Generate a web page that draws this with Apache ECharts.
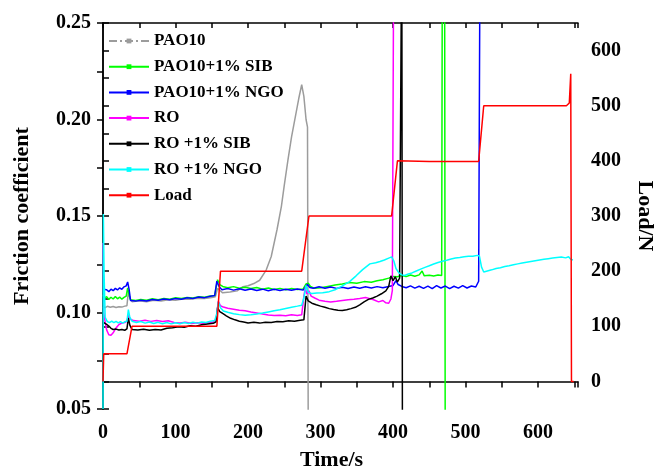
<!DOCTYPE html>
<html lang="en">
<head>
    <meta charset="UTF-8">
    <title>Friction coefficient</title>
    <script src="https://cdn.jsdelivr.net/npm/echarts@6/dist/echarts.min.js"></script>
    <style>
        html, body { margin: 0; padding: 0; background: #fff; }
        #chart { width: 655px; height: 475px; }
    </style>
</head>
<body>
<div id="chart"></div>
<script>
// tick labels
var xTicks = [0, 100, 200, 300, 400, 500, 600];
var muTicks = [0.05, 0.10, 0.15, 0.20, 0.25];
var loadTicks = [0, 100, 200, 300, 400, 500, 600];

var names = ['PAO10', 'PAO10+1% SIB', 'PAO10+1% NGO', 'RO', 'RO +1% SIB', 'RO +1% NGO', 'Load'];

// [time/s, friction coefficient]
var pao10 = [[0,0.103],[3,0.1025],[6,0.1032],[10,0.1027],[14,0.1031],[18,0.1026],[22,0.103],[26,0.1028],[30,0.1033],[33,0.1035],
    [35,0.111],[37,0.1075],[40,0.1056],[50,0.1061],[60,0.1056],[70,0.1063],[80,0.106],[90,0.1066],[100,0.1064],[110,0.107],
    [120,0.1068],[130,0.1074],[140,0.1072],[150,0.1078],[155,0.1082],[158,0.1125],[161,0.1115],[165,0.1102],[175,0.1106],
    [185,0.1112],[193,0.1134],[200,0.1139],[208,0.115],[216,0.1167],[225,0.122],[232,0.129],[240,0.143],[246,0.155],
    [250,0.166],[255,0.179],[260,0.191],[265,0.201],[270,0.211],[274,0.218],[277,0.212],[280,0.2],[282,0.196],[283,0.04]];

var pao10Sib = [[0,0.109],[2,0.1075],[5,0.1082],[8,0.1068],[11,0.1079],[14,0.107],[17,0.1083],[20,0.1071],[23,0.108],[26,0.1069],
    [29,0.1078],[32,0.1085],[34,0.1128],[36,0.109],[38,0.1066],[45,0.1062],[52,0.1068],[60,0.1064],[68,0.1071],[76,0.1066],
    [84,0.1073],[92,0.1069],[100,0.1076],[108,0.1072],[116,0.1078],[124,0.1075],[132,0.1082],[140,0.1079],[148,0.1086],
    [154,0.1088],[158,0.117],[161,0.1145],[165,0.1135],[172,0.1128],[180,0.1134],[188,0.1126],[196,0.1131],[204,0.1124],
    [212,0.113],[220,0.1121],[228,0.1127],[236,0.1119],[244,0.1125],[252,0.1118],[260,0.1124],[268,0.1119],[276,0.1122],
    [280,0.1148],[283,0.1152],[286,0.1135],[292,0.1125],[300,0.1128],[310,0.1135],[320,0.1142],[330,0.1148],[340,0.1156],
    [350,0.1152],[360,0.116],[370,0.1157],[378,0.1165],[386,0.117],[394,0.1178],[400,0.1187],[406,0.1185],[412,0.1192],
    [418,0.1186],[424,0.1194],[430,0.1188],[436,0.1195],[440,0.1215],[443,0.119],[450,0.1193],[456,0.1189],[462,0.1194],
    [467,0.1192],[468,0.3],[471,0.3],[472,0.0]];

var pao10Ngo = [[0,0.112],[2,0.1112],[5,0.1118],[8,0.1108],[11,0.1121],[14,0.1113],[17,0.1125],[20,0.1117],[23,0.1128],[26,0.112],
    [29,0.1133],[32,0.1138],[34,0.1158],[36,0.112],[38,0.1062],[45,0.1059],[52,0.1064],[60,0.106],[68,0.1067],[76,0.1063],
    [84,0.107],[92,0.1066],[100,0.1073],[108,0.1069],[116,0.1076],[124,0.1073],[132,0.108],[140,0.1077],[148,0.1084],
    [154,0.1088],[157,0.1162],[160,0.1135],[164,0.1118],[172,0.1124],[180,0.1116],[188,0.1123],[196,0.1115],[204,0.1122],
    [212,0.1114],[220,0.1121],[228,0.1113],[236,0.112],[244,0.1114],[252,0.1121],[260,0.1115],[268,0.1122],[276,0.1116],
    [282,0.1146],[285,0.113],[290,0.1126],[298,0.1133],[306,0.1126],[314,0.1132],[322,0.1125],[330,0.1131],[338,0.1124],
    [346,0.1132],[354,0.1126],[362,0.1133],[370,0.1127],[378,0.1134],[386,0.1128],[394,0.1135],[400,0.114],[404,0.1165],
    [407,0.1145],[412,0.1135],[418,0.1128],[424,0.1138],[430,0.1126],[436,0.1136],[442,0.1125],[448,0.1137],[454,0.1124],
    [460,0.1139],[466,0.1127],[472,0.1137],[478,0.1124],[484,0.1136],[490,0.1126],[496,0.1139],[502,0.1127],[508,0.1137],
    [514,0.1132],[518,0.1162],[520,0.3]];

var ro = [[0,0.136],[1,0.1],[3,0.095],[5,0.091],[8,0.0885],[11,0.0882],[14,0.0895],[18,0.092],[22,0.0938],[26,0.0945],
    [30,0.0948],[33,0.0955],[35,0.0985],[38,0.0965],[42,0.0958],[50,0.0955],[58,0.096],[66,0.0954],[74,0.0959],[82,0.0953],
    [90,0.0957],[98,0.0948],[106,0.0945],[114,0.0949],[122,0.0943],[130,0.0947],[138,0.0944],[146,0.0948],[152,0.0951],
    [156,0.0965],[159,0.1058],[162,0.1035],[166,0.1028],[172,0.1022],[180,0.1017],[188,0.1012],[196,0.1009],[204,0.1003],
    [212,0.0998],[220,0.0992],[228,0.0987],[236,0.0984],[244,0.0986],[252,0.0983],[260,0.0988],[268,0.0985],[274,0.0988],
    [277,0.1085],[279,0.113],[281,0.1095],[284,0.1112],[287,0.1085],[292,0.1075],[298,0.1064],[306,0.1058],[314,0.1055],
    [322,0.1058],[330,0.1062],[338,0.1066],[346,0.1069],[354,0.1073],[362,0.1078],[368,0.1072],[374,0.1065],[380,0.1055],
    [386,0.1062],[390,0.105],[394,0.1048],[397,0.107],[399,0.1115],[401,0.3]];

var roSib = [[0,0.095],[2,0.0945],[5,0.0938],[8,0.093],[11,0.0918],[14,0.0912],[18,0.0914],[22,0.0909],[26,0.0912],[30,0.0908],
    [33,0.0915],[35,0.0972],[37,0.0935],[40,0.0912],[48,0.0909],[56,0.0913],[64,0.0908],[72,0.0912],[80,0.0909],[88,0.0918],
    [96,0.0921],[104,0.0926],[112,0.0924],[120,0.0931],[128,0.0929],[136,0.0936],[144,0.094],[152,0.0944],[156,0.0952],
    [158,0.1025],[161,0.1005],[165,0.0995],[170,0.0983],[176,0.097],[182,0.0962],[188,0.0955],[194,0.0951],[200,0.0946],
    [208,0.0949],[216,0.0945],[224,0.095],[232,0.0948],[240,0.0953],[248,0.0952],[256,0.0957],[264,0.0955],[272,0.096],
    [277,0.0962],[280,0.1085],[283,0.106],[288,0.1048],[294,0.104],[300,0.1033],[306,0.1027],[312,0.102],[318,0.1015],
    [324,0.1012],[330,0.101],[336,0.1014],[342,0.102],[348,0.1027],[354,0.104],[360,0.1055],[366,0.1068],[372,0.1075],
    [378,0.1085],[384,0.1097],[390,0.1112],[394,0.1135],[397,0.119],[400,0.1165],[403,0.1185],[406,0.1158],[409,0.1178],
    [411,0.117],[412,0.3],[413,0.0]];

var roNgo = [[0,0.05],[0.5,0.151],[1.5,0.12],[3,0.0975],[6,0.0953],[9,0.0948],[12,0.0955],[15,0.0947],[18,0.0954],[21,0.0946],
    [24,0.0953],[27,0.0945],[30,0.0952],[33,0.0955],[35,0.1015],[37,0.0975],[40,0.0955],[46,0.0948],[52,0.0953],[58,0.0945],
    [64,0.0951],[70,0.0943],[76,0.0949],[82,0.0942],[88,0.0948],[94,0.0941],[100,0.0947],[106,0.0942],[112,0.0948],
    [118,0.0943],[124,0.0949],[130,0.0945],[136,0.0951],[142,0.0948],[148,0.0955],[154,0.0958],[157,0.0995],[159,0.1055],
    [162,0.1025],[166,0.1008],[172,0.1001],[180,0.0994],[188,0.0989],[196,0.0986],[204,0.0988],[212,0.0992],[220,0.0997],
    [228,0.1003],[236,0.1009],[244,0.1014],[252,0.1021],[260,0.1027],[268,0.1033],[274,0.1038],[277,0.1075],[280,0.114],
    [283,0.1105],[288,0.1098],[295,0.1101],[303,0.1102],[312,0.1108],[320,0.1118],[330,0.1138],[340,0.116],[349,0.119],
    [358,0.1222],[368,0.1252],[376,0.1258],[382,0.1264],[388,0.1272],[394,0.1282],[398,0.1288],[401,0.1268],[404,0.1228],
    [408,0.1205],[412,0.1195],[416,0.1192],[420,0.1198],[426,0.1205],[432,0.1215],[438,0.1225],[444,0.1234],[450,0.1242],
    [456,0.1251],[462,0.1259],[468,0.1266],[474,0.1271],[480,0.1277],[486,0.1282],[492,0.1285],[498,0.1289],[504,0.1292],
    [510,0.1291],[516,0.1296],[519,0.1293],[522,0.1235],[525,0.121],[530,0.1215],[536,0.1221],[542,0.1228],[548,0.1232],
    [554,0.1238],[560,0.1242],[566,0.1247],[572,0.1252],[578,0.1256],[584,0.126],[590,0.1264],[596,0.1268],[602,0.1272],
    [608,0.1276],[614,0.1279],[620,0.1282],[626,0.1285],[632,0.1287],[638,0.1283],[642,0.1289],[645,0.1276],[648,0.1272]];

// [time/s, load/N]
var load = [[0,0],[1,50],[33,50],[40,100],[157,100],[162,200],[274,200],[284,300],[398,300],[406,400],[450,399],
    [518,399],[525,500],[639,500],[643,505],[645,558],[646,0],[649,0]];

var colors = ['#9c9c9c', '#00ff00', '#0000ff', '#ff00ff', '#000000', '#00ffff', '#ff0000'];
var dataSets = [pao10, pao10Sib, pao10Ngo, ro, roSib, roNgo, load];

var font = "'Liberation Serif', 'Times New Roman', serif";

var chart = echarts.init(document.getElementById('chart'), null, {renderer: 'canvas'});

var series = [];
for (var i = 0; i < names.length; i++) {
    series.push({
        name: names[i],
        type: 'line',
        data: dataSets[i],
        xAxisIndex: 0,
        yAxisIndex: i === 6 ? 1 : 0,
        symbol: 'rect',
        symbolSize: 4,
        showSymbol: false,
        clip: true,
        animation: false,
        itemStyle: {color: colors[i]},
        lineStyle: {color: colors[i], width: 1.5}
    });
}

var legendData = names.map(function (n, i) {
    if (i === 0) return {name: n, lineStyle: {type: [8, 3, 2, 3], width: 2}};
    return {name: n};
});

var axisLine = {show: true, lineStyle: {color: '#000', width: 1.5}};

option = {
    backgroundColor: '#fff',
    animation: false,
    grid: {left: 103, right: 77, top: 23, bottom: 66, containLabel: false, outerBoundsMode: 'none'},
    legend: {
        orient: 'vertical',
        left: 103,
        top: 27,
        itemWidth: 40,
        itemHeight: 6,
        itemGap: 7.7,
        data: legendData,
        textStyle: {color: '#000', fontFamily: font, fontWeight: 'bold', fontSize: 17, lineHeight: 18}
    },
    xAxis: [
        {
            type: 'value', position: 'bottom', min: 0, max: 655, interval: 50,
            axisLine: axisLine,
            axisTick: {show: true, inside: false, length: 6, lineStyle: {color: '#000', width: 1.5}},
            axisLabel: {
                margin: 14, color: '#000', fontFamily: font, fontWeight: 'bold', fontSize: 20,
                formatter: function (v) { return xTicks.indexOf(v) >= 0 ? String(v) : ''; }
            },
            splitLine: {show: false},
            name: 'Time/s', nameLocation: 'middle', nameGap: 40,
            nameTextStyle: {color: '#000', fontFamily: font, fontWeight: 'bold', fontSize: 22, padding: [0, 18, 0, 0]}
        },
        {
            type: 'value', position: 'top', min: 0, max: 655, interval: 50,
            axisLine: axisLine,
            axisTick: {show: true, inside: true, length: 5, lineStyle: {color: '#000', width: 1.5}},
            axisLabel: {show: false},
            splitLine: {show: false}
        }
    ],
    yAxis: [
        {
            type: 'value', position: 'left', min: 0.05, max: 0.25, interval: 0.025,
            axisLine: axisLine,
            axisTick: {show: true, inside: false, length: 6, lineStyle: {color: '#000', width: 1.5}},
            axisLabel: {
                margin: 12, color: '#000', fontFamily: font, fontWeight: 'bold', fontSize: 20,
                formatter: function (v) {
                    for (var k = 0; k < muTicks.length; k++) {
                        if (Math.abs(v - muTicks[k]) < 1e-6) return muTicks[k].toFixed(2);
                    }
                    return '';
                }
            },
            splitLine: {show: false},
            name: 'Friction coefficient', nameLocation: 'middle', nameGap: 70, nameRotate: 90,
            nameTextStyle: {color: '#000', fontFamily: font, fontWeight: 'bold', fontSize: 22}
        },
        {
            type: 'value', position: 'right', min: -50, max: 650, interval: 50,
            axisLine: axisLine,
            axisTick: {show: true, inside: false, length: 6, lineStyle: {color: '#000', width: 1.5}},
            axisLabel: {
                margin: 13, color: '#000', fontFamily: font, fontWeight: 'bold', fontSize: 20,
                formatter: function (v) { return loadTicks.indexOf(v) >= 0 ? String(v) : ''; }
            },
            splitLine: {show: false},
            name: 'Load/N', nameLocation: 'middle', nameGap: 56, nameRotate: -90,
            nameTextStyle: {color: '#000', fontFamily: font, fontWeight: 'bold', fontSize: 22}
        }
    ],
    series: series
};
chart.setOption(option);
</script>
</body>
</html>
